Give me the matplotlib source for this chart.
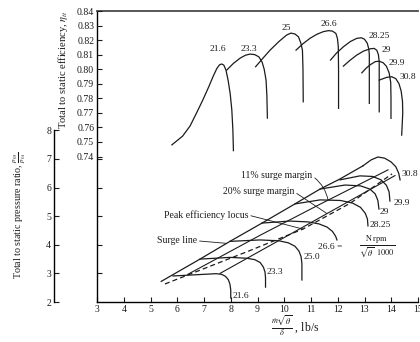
import matplotlib
import matplotlib.pyplot as plt

matplotlib.use("Agg")

plt.rcParams["font.family"] = ["Liberation Serif", "DejaVu Serif"]
plt.rcParams["mathtext.fontset"] = "stix"

LINE_COLOR = "#1c1c1c"

# efficiency characteristics (flow, total to static efficiency)
eff_flow = {
    "21.6": [5.80, 6.20, 6.48, 6.75, 6.96, 7.18, 7.34, 7.48, 7.58, 7.66, 7.74,
             7.82, 7.90, 7.98, 8.04, 8.08, 8.10],
    "23.3": [7.85, 8.10, 8.35, 8.55, 8.72, 8.90, 9.05, 9.17, 9.25, 9.32, 9.35, 9.37],
    "25": [8.93, 9.20, 9.47, 9.80, 10.09, 10.25, 10.40, 10.53, 10.62, 10.68, 10.70, 10.71],
    "26.6": [10.44, 10.70, 10.96, 11.22, 11.46, 11.65, 11.80, 11.93, 11.99, 12.02, 12.03, 12.03],
    "28.25": [11.73, 11.95, 12.21, 12.47, 12.71, 12.88, 13.00, 13.10, 13.16, 13.18, 13.18],
    "29": [12.21, 12.45, 12.71, 12.97, 13.21, 13.36, 13.46, 13.52, 13.55, 13.55],
    "29.9": [12.90, 13.05, 13.21, 13.40, 13.55, 13.70, 13.82, 13.92, 13.98, 13.99, 13.99],
    "30.8": [13.55, 13.83, 14.02, 14.17, 14.29, 14.37, 14.42, 14.43, 14.41, 14.39],
}
eff_value = {
    "21.6": [0.748, 0.754, 0.761, 0.771, 0.779, 0.788, 0.795, 0.8005, 0.8030, 0.8036,
             0.8028, 0.7995, 0.7925, 0.783, 0.772, 0.758, 0.744],
    "23.3": [0.7994, 0.804, 0.8076, 0.8096, 0.8104, 0.8100, 0.8085, 0.805, 0.800,
             0.7925, 0.782, 0.7664],
    "25": [0.8017, 0.8075, 0.8131, 0.819, 0.8235, 0.8248, 0.8242, 0.8223, 0.818,
           0.8131, 0.800, 0.7776],
    "26.6": [0.8131, 0.8175, 0.8212, 0.824, 0.8258, 0.8265, 0.8262, 0.8246, 0.821,
             0.8154, 0.800, 0.7731],
    "28.25": [0.8063, 0.811, 0.8154, 0.8190, 0.8212, 0.8216, 0.8206, 0.8180, 0.8140,
              0.8100, 0.7765],
    "29": [0.8021, 0.806, 0.8097, 0.8125, 0.8140, 0.8143, 0.8130, 0.8100, 0.8050, 0.7707],
    "29.9": [0.7975, 0.8005, 0.8030, 0.8052, 0.8055, 0.8044, 0.8020, 0.7975, 0.7910,
             0.7800, 0.7662],
    "30.8": [0.7925, 0.7944, 0.7948, 0.7935, 0.7900, 0.7850, 0.7780, 0.7700, 0.7620, 0.7547],
}

# pressure ratio characteristics (flow, total to static pressure ratio)
pr_flow = {
    "21.6": [5.84, 6.85, 7.45, 7.65, 7.80, 7.91, 7.97, 8.00, 8.00],
    "23.3": [6.85, 7.97, 8.60, 8.90, 9.10, 9.22, 9.28, 9.30, 9.30],
    "25.0": [7.97, 9.09, 9.80, 10.15, 10.40, 10.55, 10.63, 10.66, 10.66],
    "26.6": [9.17, 10.21, 10.90, 11.30, 11.60, 11.80, 11.92, 11.97],
    "28.25": [10.40, 11.34, 12.10, 12.55, 12.85, 13.03, 13.11, 13.13],
    "29": [11.34, 12.27, 12.85, 13.20, 13.40, 13.50, 13.54],
    "29.9": [12.08, 12.83, 13.30, 13.62, 13.82, 13.92, 13.95],
    "30.8": [12.94, 13.25, 13.50, 13.75, 13.99, 14.17, 14.28, 14.33],
}
pr_value = {
    "21.6": [2.91, 2.96, 2.99, 2.97, 2.90, 2.78, 2.62, 2.42, 2.14],
    "23.3": [3.50, 3.56, 3.53, 3.48, 3.38, 3.22, 3.05, 2.85, 2.52],
    "25.0": [4.12, 4.17, 4.14, 4.07, 3.95, 3.78, 3.58, 3.35, 2.77],
    "26.6": [4.76, 4.83, 4.80, 4.73, 4.62, 4.47, 4.30, 4.17],
    "28.25": [5.43, 5.57, 5.55, 5.46, 5.31, 5.10, 4.90, 4.66],
    "29": [5.95, 6.09, 6.06, 5.95, 5.78, 5.55, 5.25],
    "29.9": [6.27, 6.41, 6.39, 6.27, 6.08, 5.85, 5.53],
    "30.8": [6.76, 6.97, 7.07, 7.03, 6.90, 6.73, 6.50, 6.27],
}

surge_flow = [5.40, 6.85, 7.97, 9.17, 10.40, 11.34, 12.08, 12.94]
surge_pr = [2.72, 3.50, 4.12, 4.76, 5.43, 5.95, 6.30, 6.76]
margin11_flow = [6.40, 9.09, 11.34, 13.88]
margin11_pr = [2.97, 4.33, 5.42, 6.62]
margin20_flow = [7.60, 9.84, 11.71, 14.14]
margin20_pr = [3.00, 4.17, 5.15, 6.42]
peak_flow = [5.54, 8.72, 10.70, 12.46, 14.03]
peak_pr = [2.63, 3.80, 4.55, 5.45, 6.48]

fig = plt.figure(figsize=(4.2, 3.42), dpi=100)
ax = fig.add_axes([97 / 420, 40 / 342, 321 / 420, 291 / 342])
ax.set_xlim(3, 15)
ax.set_ylim(2, 2 + 291 / 28.6)

ax_eff = ax.twinx()
ax_eff.set_ylim(0.64, 0.84)

ax_pr = ax.twinx()
ax_pr.set_ylim(ax.get_ylim())

# pressure ratio map
for speed, xs in pr_flow.items():
    ax.plot(xs, pr_value[speed], color=LINE_COLOR, lw=0.9)
ax.plot(surge_flow, surge_pr, color=LINE_COLOR, lw=0.9)
ax.plot(margin11_flow, margin11_pr, color=LINE_COLOR, lw=0.8)
ax.plot(margin20_flow, margin20_pr, color=LINE_COLOR, lw=0.8)
ax.plot(peak_flow, peak_pr, color=LINE_COLOR, lw=0.9, ls=(0, (4, 2.5)))

# efficiency map
for speed, xs in eff_flow.items():
    ax_eff.plot(xs, eff_value[speed], color=LINE_COLOR, lw=0.9)

txt = dict(fontsize=6.8, color=LINE_COLOR)
eff_labels = {
    "21.6": (7.52, 0.8139), "23.3": (8.68, 0.8139), "25": (10.09, 0.828),
    "26.6": (11.67, 0.831), "28.25": (13.54, 0.8227), "29": (13.83, 0.8131),
    "29.9": (14.20, 0.804), "30.8": (14.63, 0.7943),
}
for label, (x, y) in eff_labels.items():
    ax_eff.text(x, y, label, ha="center", va="center", **txt)

pr_labels = {
    "21.6": (8.08, 2.21), "23.3": (9.34, 3.06), "25.0": (10.71, 3.57),
    "28.25": (13.18, 4.69), "29": (13.58, 5.16), "29.9": (14.08, 5.45),
    "30.8": (14.39, 6.48),
}
for label, (x, y) in pr_labels.items():
    ax.text(x, y, label, ha="left", va="center", **txt)
ax.text(11.27, 3.91, "26.6 =", ha="left", va="center", **txt)
ax.text(13.45, 3.93, r"$\frac{\mathrm{N\ rpm}}{\sqrt{\theta}\ \ 1000}$",
        ha="center", va="center", fontsize=8.5, color=LINE_COLOR)

arrow = dict(arrowstyle="-", lw=0.6, color=LINE_COLOR, shrinkA=0, shrinkB=0)
notes = [
    ("11% surge margin", (9.71, 6.41), (11.64, 5.56), 0.2),
    ("20% surge margin", (9.03, 5.86), (11.60, 5.09), 0.0),
    ("Peak efficiency locus", (7.07, 5.04), (10.70, 4.55), 0.0),
    ("Surge line", (5.98, 4.14), (7.85, 4.05), 0.0),
]
for label, xytext, xy, rad in notes:
    ax.annotate(label, xy=xy, xytext=xytext, ha="center", va="center",
                fontsize=7, color=LINE_COLOR,
                arrowprops=dict(arrow, relpos=(1, 0.5),
                                connectionstyle=f"arc3,rad={-rad}"))

# axes styling
tick_kw = dict(direction="in", length=3.5, width=0.8, labelsize=7, pad=2,
               colors=LINE_COLOR)
for a in (ax, ax_eff, ax_pr):
    a.spines["right"].set_visible(False)
ax.spines["top"].set_linewidth(1.3)
ax.spines["top"].set_color("#4a4a4a")
ax.spines["left"].set_linewidth(1.0)
ax.spines["bottom"].set_linewidth(1.0)
for side in ("top", "bottom", "left"):
    ax_eff.spines[side].set_visible(False)
for side in ("top", "bottom"):
    ax_pr.spines[side].set_visible(False)

ax.set_xticks(range(3, 16))
ax.set_yticks([3, 4, 5, 6, 7])
ax.set_yticklabels([])
ax.tick_params(axis="both", top=False, right=False, **tick_kw)

ax_eff.set_yticks([0.74 + 0.01 * i for i in range(11)])
ax_eff.set_yticklabels([f"{0.74 + 0.01 * i:.2f}" for i in range(11)])
ax_eff.yaxis.set_ticks_position("left")
ax_eff.tick_params(axis="y", **tick_kw)

ax_pr.spines["left"].set_visible(True)
ax_pr.spines["left"].set_position(("outward", 31))
ax_pr.spines["left"].set_bounds(2, 8)
ax_pr.spines["left"].set_linewidth(1.0)
ax_pr.yaxis.set_ticks_position("left")
ax_pr.set_yticks(range(2, 9))
ax_pr.tick_params(axis="y", **tick_kw)

fig.text(63 / 420, 1 - 70 / 342, r"Total to static efficiency, $\eta_{tt}$",
         rotation=90, ha="center", va="center", fontsize=7.6, color=LINE_COLOR)
fig.text(20 / 420, 1 - 215 / 342,
         r"Total to static pressure ratio, $\frac{p_{03}}{p_{01}}$",
         rotation=90, ha="center", va="center", fontsize=7.2, color=LINE_COLOR)
fig.text(295 / 420, 1 - 326 / 342, r"$\frac{\dot{m}\sqrt{\theta}}{\delta}$ , lb/s",
         ha="center", va="center", fontsize=8.5, color=LINE_COLOR)

fig.savefig("out.png", dpi=100)
